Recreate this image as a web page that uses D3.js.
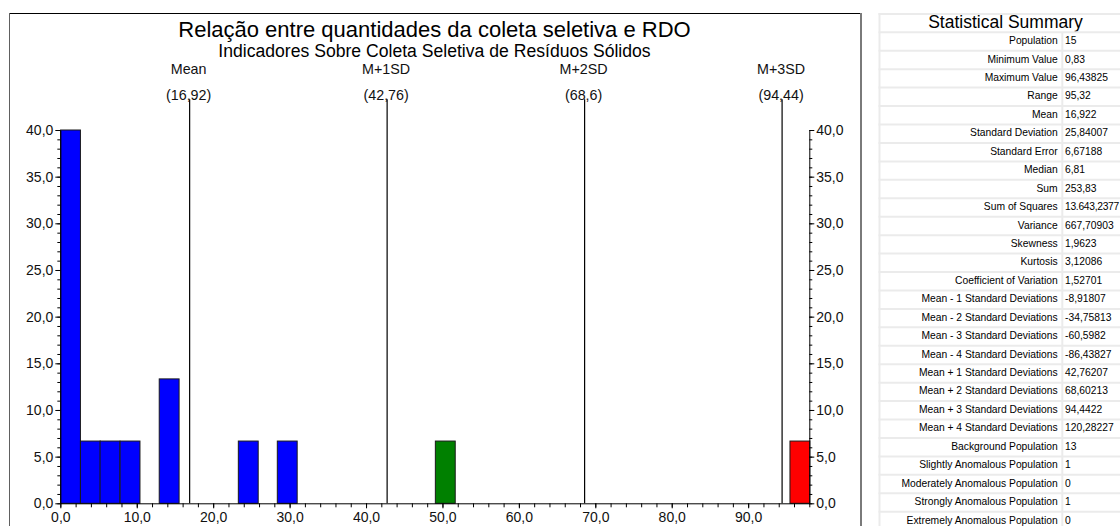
<!DOCTYPE html>
<html><head><meta charset="utf-8">
<script src="https://cdn.jsdelivr.net/npm/d3@7"></script>
<style>
body{margin:0;background:#fff;}
svg{display:block;font-family:"Liberation Sans",Arial,sans-serif;}
</style>
</head><body>
<svg id="c" width="1120" height="526"></svg>
<script>
// ---------- data ----------
const titleText = "Relação entre quantidades da coleta seletiva e RDO";
const subtitleText = "Indicadores Sobre Coleta Seletiva de Resíduos Sólidos";
const binCenters = [1.33, 3.93, 6.50, 9.12, 14.24, 24.59, 29.69, 50.37, 96.77];
const binHeights = [40, 6.67, 6.67, 6.67, 13.33, 6.67, 6.67, 6.67, 6.67];
const binClasses = ["background","background","background","background","background","background","background","slightly","strongly"];
const binWidth = 2.6;
const refNames = ["Mean", "M+1SD", "M+2SD", "M+3SD"];
const refValues = [16.92, 42.76, 68.6, 94.44];
const xDomain = [0, 98];
const yDomain = [0, 40];
const xMajorTicks = [0, 10, 20, 30, 40, 50, 60, 70, 80, 90];
const xMinorStep = 2;
const yMajorTicks = [0, 5, 10, 15, 20, 25, 30, 35, 40];
const yMinorStep = 1;
const tableTitle = "Statistical Summary";
const statLabels = ["Population","Minimum Value","Maximum Value","Range","Mean","Standard Deviation","Standard Error","Median","Sum","Sum of Squares","Variance","Skewness","Kurtosis","Coefficient of Variation","Mean - 1 Standard Deviations","Mean - 2 Standard Deviations","Mean - 3 Standard Deviations","Mean - 4 Standard Deviations","Mean + 1 Standard Deviations","Mean + 2 Standard Deviations","Mean + 3 Standard Deviations","Mean + 4 Standard Deviations","Background Population","Slightly Anomalous Population","Moderately Anomalous Population","Strongly Anomalous Population","Extremely Anomalous Population"];
const statValues = ["15","0,83","96,43825","95,32","16,922","25,84007","6,67188","6,81","253,83","13.643,2377","667,70903","1,9623","3,12086","1,52701","-8,91807","-34,75813","-60,5982","-86,43827","42,76207","68,60213","94,4422","120,28227","13","1","0","1","0"];

// ---------- styles ----------
const classColors = {background: "#0000ff", slightly: "#008000", strongly: "#ff0000"};
const svg = d3.select("#c");
const fmt1 = v => d3.format(".1f")(v).replace(".", ",");

// frame
svg.append("line").attr("x1", 9).attr("x2", 861).attr("y1", 13.5).attr("y2", 13.5).attr("stroke", "#000");
svg.append("line").attr("x1", 9.5).attr("x2", 9.5).attr("y1", 13).attr("y2", 526).attr("stroke", "#606060");
svg.append("rect").attr("x", 860).attr("y", 13).attr("width", 2).attr("height", 513).attr("fill", "#7a7a7a");

// scales
const x = d3.scaleLinear().domain(xDomain).range([60.33, 809.3]);
const y = d3.scaleLinear().domain(yDomain).range([503.3, 130]);

// titles
svg.append("text").attr("x", 434.5).attr("y", 37).attr("text-anchor", "middle")
  .attr("font-size", 22).attr("fill", "#000").text(titleText);
svg.append("text").attr("x", 434.5).attr("y", 57.3).attr("text-anchor", "middle")
  .attr("font-size", 17.6).attr("fill", "#000").text(subtitleText);

// bars
svg.append("g").selectAll("rect").data(binCenters).join("rect")
  .attr("x", (d) => x(d - binWidth / 2))
  .attr("width", (d) => x(d + binWidth / 2) - x(d - binWidth / 2))
  .attr("y", (d, i) => y(binHeights[i]))
  .attr("height", (d, i) => y(0) - y(binHeights[i]))
  .attr("fill", (d, i) => classColors[binClasses[i]])
  .attr("stroke", "#1a1a1a").attr("stroke-width", 1);

// reference lines
const refs = svg.append("g");
refValues.forEach((v, i) => {
  const px = x(v);
  refs.append("line").attr("x1", px).attr("x2", px).attr("y1", 99.3).attr("y2", y(0))
    .attr("stroke", "#000").attr("stroke-width", 1.2);
  refs.append("text").attr("x", px - 1).attr("y", 74).attr("text-anchor", "middle")
    .attr("font-size", 14.3).attr("fill", "#111").text(refNames[i]);
  refs.append("text").attr("x", px - 1).attr("y", 100).attr("text-anchor", "middle")
    .attr("font-size", 14.3).attr("fill", "#111").text("(" + String(v).replace(".", ",") + ")");
});

// axes
const xMinor = d3.range(xDomain[0], xDomain[1] + 0.001, xMinorStep);
const yMinor = d3.range(yDomain[0], yDomain[1] + 0.001, yMinorStep);

function styleAxis(g) {
  g.selectAll("path,line").attr("stroke", "#000");
  g.selectAll("text").attr("fill", "#111").attr("font-family", "Liberation Sans, Arial, sans-serif").attr("font-size", 14);
}

svg.append("g").attr("transform", `translate(0,${y(0)})`)
  .call(d3.axisBottom(x).tickValues(xMinor).tickSize(4).tickSizeOuter(0).tickFormat(""))
  .call(styleAxis);
svg.append("g").attr("transform", `translate(0,${y(0)})`)
  .call(d3.axisBottom(x).tickValues(xMajorTicks).tickSize(5).tickSizeOuter(0).tickPadding(4).tickFormat(fmt1))
  .call(g => g.select(".domain").remove())
  .call(styleAxis);

[["left", 60.33], ["right", 809.3]].forEach(([side, px]) => {
  const mk = side === "left" ? d3.axisLeft : d3.axisRight;
  svg.append("g").attr("transform", `translate(${px},0)`)
    .call(mk(y).tickValues(yMinor).tickSize(3).tickSizeOuter(0).tickFormat(""))
    .call(styleAxis);
  svg.append("g").attr("transform", `translate(${px},0)`)
    .call(mk(y).tickValues(yMajorTicks).tickSize(5).tickSizeOuter(0).tickPadding(2).tickFormat(fmt1))
    .call(g => g.select(".domain").remove())
    .call(styleAxis);
});

// ---------- table ----------
const tLeft = 878.5, tDiv = 1062.3, tTop = 13, titleBottom = 32.3, rowH = 18.44;
const tb = svg.append("g");
const gridColor = "#ebebeb";
tb.append("line").attr("x1", tLeft + 1).attr("x2", tLeft + 1).attr("y1", tTop).attr("y2", 526).attr("stroke", gridColor).attr("stroke-width", 2);
tb.append("line").attr("x1", tLeft).attr("x2", 1120).attr("y1", tTop + 1).attr("y2", tTop + 1).attr("stroke", gridColor).attr("stroke-width", 2);
tb.append("line").attr("x1", tDiv).attr("x2", tDiv).attr("y1", titleBottom).attr("y2", 526).attr("stroke", gridColor).attr("stroke-width", 2);
tb.append("text").attr("x", 1005.5).attr("y", 28.3).attr("text-anchor", "middle").attr("font-size", 17.5).attr("fill", "#000").text(tableTitle);

const rowTop = i => titleBottom + i * rowH;
tb.selectAll("line.row").data(d3.range(statLabels.length + 1)).join("line").attr("class", "row")
  .attr("x1", tLeft).attr("x2", 1120).attr("y1", i => rowTop(i)).attr("y2", i => rowTop(i))
  .attr("stroke", gridColor).attr("stroke-width", 2);
tb.selectAll("text.lab").data(statLabels).join("text").attr("class", "lab")
  .attr("x", 1057.7).attr("y", (d, i) => rowTop(i) + 11.8).attr("text-anchor", "end")
  .attr("font-size", 10.3).attr("fill", "#000").text(d => d);
tb.selectAll("text.val").data(statValues).join("text").attr("class", "val")
  .attr("x", 1065).attr("y", (d, i) => rowTop(i) + 11.8)
  .attr("font-size", 10.3).attr("fill", "#000")
  .attr("letter-spacing", d => d.length > 10 ? -0.3 : null)
  .text(d => d);
</script>
</body></html>
